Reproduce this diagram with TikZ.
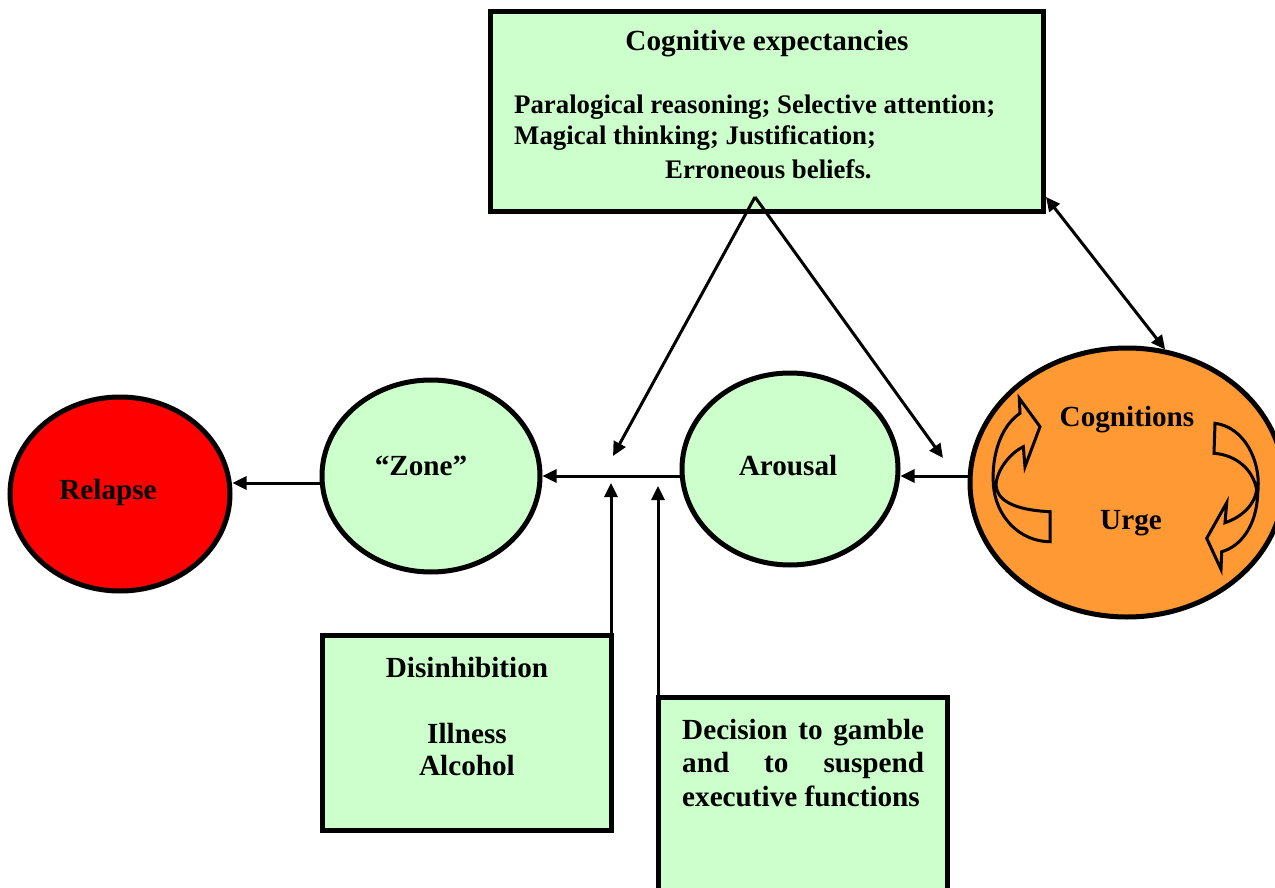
\documentclass[tikz,border=0pt]{standalone}
\usepackage{fontspec}
\setmainfont{Liberation Serif}
\usetikzlibrary{shapes.geometric,arrows.meta,calc}
\definecolor{palegreen}{HTML}{CCFFCC}
\definecolor{urgeorange}{HTML}{FF9933}
\definecolor{relapsered}{HTML}{FF0000}
\begin{document}
\begin{tikzpicture}[x=1pt,y=-1pt,
  oval/.style={ellipse, draw, line width=5pt, inner sep=0pt},
  panel/.style={rectangle, draw, line width=5pt, fill=palegreen, inner sep=0pt, outer sep=0pt},
  lbl/.style={font=\fontsize{29.2}{32}\selectfont\bfseries, inner sep=0pt},
  smalllbl/.style={font=\fontsize{26.8}{31}\selectfont\bfseries, inner sep=0pt},
  flow/.style={line width=3pt, -{Triangle[length=14pt,width=13pt]}},
  twoway/.style={line width=3pt, {Triangle[length=14pt,width=13pt]}-{Triangle[length=14pt,width=13pt]}},
  swirl/.style={draw, line width=3pt, fill=urgeorange, line join=miter}
]
\useasboundingbox (0,0) rectangle (1275,888);

% ---- boxes ----
\node[panel, minimum width=553pt, minimum height=199pt] (cog) at (766.5,111.5) {};
\node[panel, minimum width=289pt, minimum height=195pt] (dis) at (466.5,732.5) {};
\node[panel, minimum width=289pt, minimum height=205pt] (dec) at (802.5,799.5) {};

% ---- states ----
\node[oval, fill=relapsered, minimum width=220pt, minimum height=194pt] (relapse) at (120,494) {};
\node[oval, fill=palegreen, minimum width=218pt, minimum height=192pt] (zone) at (431,476) {};
\node[oval, fill=palegreen, minimum width=216pt, minimum height=192pt] (arousal) at (790,469) {};
\node[oval, fill=urgeorange, minimum width=314pt, minimum height=269pt] (urge) at (1127,482.5) {};

% ---- cycling arrows inside the urge state ----
\draw[swirl] (1050,511.7) .. controls (1013.3,510) and (996.7,500) .. (996,485)
  .. controls (996.7,470) and (1010,453.3) .. (1023.3,446.7)
  -- (1025,466.7) -- (1040,426.7) -- (1019.3,398.3) -- (1020,413.3)
  .. controls (1000,426.7) and (991.7,456.7) .. (993.3,483.3)
  .. controls (995,516.7) and (1020,541.7) .. (1050,541.7) -- cycle;
\draw[swirl] (1215,423.3) .. controls (1243.3,426.7) and (1261.7,460) .. (1257.7,493.3)
  .. controls (1256.7,526.7) and (1240,546.7) .. (1221.7,551.7)
  -- (1221,569.3) -- (1206.7,538.3) -- (1226.7,502.7) -- (1225,522.7)
  .. controls (1243.3,516.7) and (1255,503.3) .. (1256.7,490)
  .. controls (1253.3,470) and (1236.7,455) .. (1214,453.3) -- cycle;

% ---- texts ----
\node[lbl] (cogtitle) at (767,44) {Cognitive expectancies};
\node[smalllbl, anchor=west, align=left] (cogitems) at (514,123) {Paralogical reasoning; Selective attention;\\Magical thinking; Justification;};
\node[smalllbl, anchor=west] (cogbeliefs) at (665,169) {Erroneous beliefs.};
\node[lbl] (relapsetext) at (108,492) {Relapse};
\node[lbl] (zonetext) at (421,466) {“Zone”};
\node[lbl] (arousaltext) at (788,466) {Arousal};
\node[lbl] (cogntext) at (1127,420) {Cognitions};
\node[lbl] (urgetext) at (1131,523) {Urge};
\node[lbl] (dishead) at (467,668) {Disinhibition};
\node[lbl, align=center] (disitems) at (467,750) {Illness\\Alcohol};
\node[lbl, anchor=west, text width=242pt, align=justify, font=\fontsize{29.2}{33.5}\selectfont\bfseries] (dectext) at (682,763)
  {Decision to gamble\linebreak and to suspend\linebreak executive functions};

% ---- connectors ----
\coordinate (mainline) at (0,476);
\coordinate (lowline) at (0,483);
\draw[flow] (urge.west |- mainline) -- (arousal.east |- mainline);
\draw[flow] (arousal.west |- mainline) -- (zone.east |- mainline);
\draw[flow] (zone.west |- lowline) -- (relapse.east |- lowline);

\coordinate (apex) at (755,197);
\coordinate (leftend) at (613,456);
\coordinate (rightend) at (943,458);
\draw[flow] (apex) -- (leftend);
\draw[flow] (apex) -- (rightend);

\coordinate (cornerend) at (1046,197);
\draw[twoway] (cornerend) -- (urge.74);

\coordinate (disstop) at (0,483);
\coordinate (decstop) at (0,486);
\draw[flow] (dis.north east) -- (dis.north east |- disstop);
\draw[flow] (dec.north west) -- (dec.north west |- decstop);
\end{tikzpicture}
\end{document}
